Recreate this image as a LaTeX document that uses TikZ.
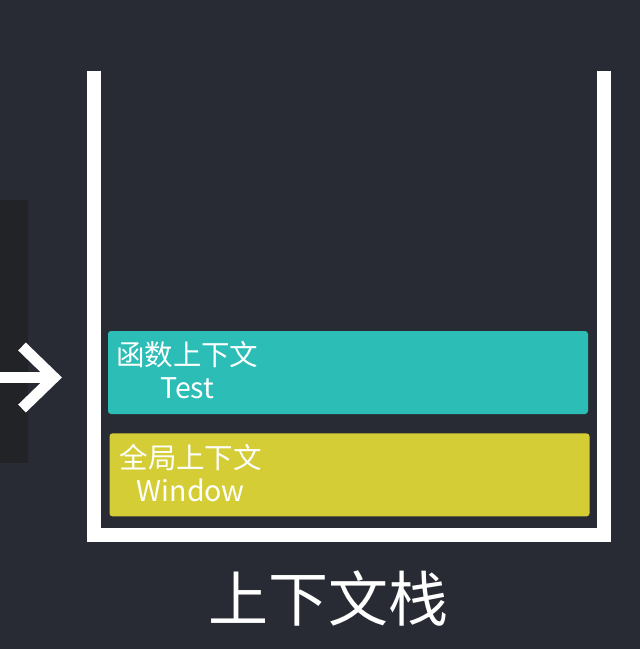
\documentclass[tikz,border=0pt]{standalone}
\usepackage{fontspec}
\setmainfont{Noto Sans CJK SC}
\usepackage{xcolor}
\usepackage{tikz}
\usetikzlibrary{positioning}
\definecolor{slidebg}{HTML}{282B34}
\definecolor{panelbg}{HTML}{222327}
\definecolor{ctxcyan}{HTML}{2BBDB6}
\definecolor{ctxyellow}{HTML}{D4CD35}

\begin{document}
\begin{tikzpicture}[
    x=1pt, y=-1pt,
    nosep/.style={inner sep=0},
    wall/.style={draw=white, line width=14pt, line join=miter},
    ctxbox/.style={rectangle, rounded corners=3pt, nosep, minimum width=480pt, minimum height=83pt},
    ctxtext/.style={nosep, text=white, align=center, font=\fontsize{28.5}{33}\selectfont},
    pointer/.style={draw=white, line width=11pt}]
\useasboundingbox[fill=slidebg] (0,0) rectangle (640,649);
\path[fill=panelbg] (0,200) rectangle (28,463);

% stack walls
\path[wall] (94,70.5) -- (94,535) -- (604,535) -- (604,70.5);

% contexts
\node[ctxbox, fill=ctxcyan] (funcctx) at (348,372.5) {};
\node[ctxbox, fill=ctxyellow, below=19pt of funcctx, xshift=1.5pt] (globalctx) {};
\node[ctxtext, anchor=west] (functext) at ([xshift=8pt, yshift=2pt]funcctx.west) {函数上下文\\Test};
\node[ctxtext, anchor=west] (globaltext) at ([xshift=10pt, yshift=2pt]globalctx.west) {全局上下文\\Window};

% title
\node[nosep, text=white, font=\fontsize{60}{60}\selectfont] (stacktitle) at (328,598) {上下文栈};

% arrow into the stack
\coordinate (arrowtail) at (0,377.5);
\coordinate (arrowtip) at (54,377.5);
\path[pointer] (arrowtail) -- (arrowtip);
\path[pointer, line join=miter] ([shift={(-32,-31)}]arrowtip) -- (arrowtip) -- ([shift={(-32,31)}]arrowtip);

\end{tikzpicture}
\end{document}
